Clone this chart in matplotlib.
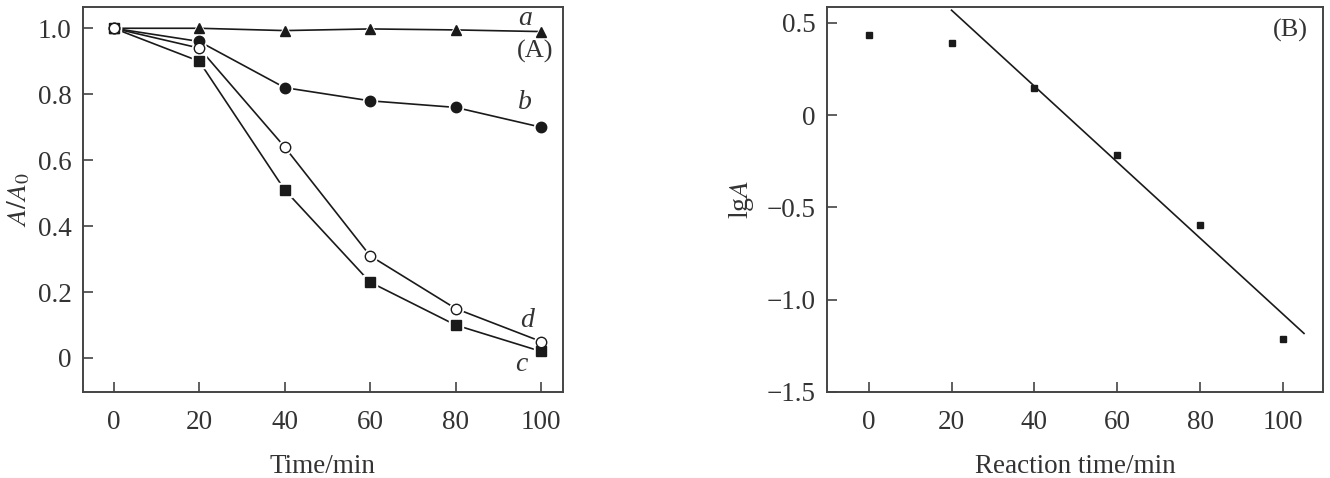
import matplotlib
matplotlib.use('Agg')
import matplotlib.pyplot as plt
import numpy as np

plt.rcParams['font.family'] = ['Liberation Serif', 'DejaVu Serif']
plt.rcParams['mathtext.fontset'] = 'stix'

# panel A data
time = [0, 20, 40, 60, 80, 100]
a_vals = [1.0, 1.0, 0.993, 0.998, 0.995, 0.99]
b_vals = [1.0, 0.96, 0.82, 0.78, 0.76, 0.70]
c_vals = [1.0, 0.90, 0.51, 0.23, 0.10, 0.02]
d_vals = [1.0, 0.94, 0.64, 0.31, 0.15, 0.05]

# panel B data
lg_a = [0.435, 0.39, 0.145, -0.215, -0.595, -1.215]
fit_slope = -0.0206
fit_intercept = 0.98
fit_range = [20, 105]

ink = '#1a1a1a'
frame = '#444444'

fig = plt.figure(figsize=(13.3, 4.78), dpi=100)
ax1 = fig.add_axes([0.0622, 0.18, 0.361, 0.805])
ax2 = fig.add_axes([0.6216, 0.18, 0.3732, 0.806])


def series(ax, y, marker, filled, ms=7.5):
    ax.plot(time, y, '-', color=ink, lw=1.2, zorder=2)
    ax.plot(time, y, marker, ms=ms + 2.5, mfc='white', mec='white', zorder=3)
    ax.plot(time, y, marker, ms=ms, mfc=ink if filled else 'white',
            mec=ink, mew=1.0, zorder=4)


series(ax1, a_vals, '^', True)
series(ax1, b_vals, 'o', True)
series(ax1, c_vals, 's', True, ms=7)
series(ax1, d_vals, 'o', False)

ax1.set_xlim(-7.25, 105.1)
ax1.set_ylim(-0.103, 1.064)
ax1.set_xticks(time)
ax1.set_yticks([0, 0.2, 0.4, 0.6, 0.8, 1.0])
ax1.set_yticklabels(['0', '0.2', '0.4', '0.6', '0.8', '1.0'])
ax1.set_xlabel('Time/min', fontsize=19.5, color='#333333', labelpad=14)
ax1.set_ylabel(r'$A/A_{\rm 0}$', fontsize=20, color='#333333', labelpad=4)

lab = dict(fontsize=20, style='italic', color='#333333', ha='center', va='center')
ax1.text(96.3, 1.031, 'a', **lab)
ax1.text(96.3, 0.776, 'b', **lab)
ax1.text(95.3, -0.02, 'c', **lab)
ax1.text(96.7, 0.115, 'd', **lab)
ax1.text(98.6, 0.93, '(A)', fontsize=19, color='#333333', ha='center', va='center')

# panel B
ax2.plot(time, lg_a, 's', ms=5, color=ink, zorder=3)
fx = np.array(fit_range)
ax2.plot(fx, fit_intercept + fit_slope * fx, '-', color=ink, lw=1.2)
ax2.set_xlim(-10.1, 109.6)
ax2.set_ylim(-1.5, 0.587)
ax2.set_xticks(time)
ax2.set_yticks([0.5, 0, -0.5, -1.0, -1.5])
ax2.set_yticklabels(['0.5', '0', '\u22120.5', '\u22121.0', '\u22121.5'])
ax2.set_xlabel('Reaction time/min', fontsize=19.5, color='#333333', labelpad=14)
ax2.set_ylabel(r'lg$A$', fontsize=20, color='#333333', labelpad=8)
ax2.text(101.6, 0.46, '(B)', fontsize=19, color='#333333', ha='center', va='center')

for ax in (ax1, ax2):
    ax.tick_params(direction='in', length=7, width=1.2, color=frame,
                   labelsize=19.5, labelcolor='#333333',
                   top=False, right=False)
    ax.tick_params(axis='x', pad=13)
    ax.tick_params(axis='y', pad=8)
    for sp in ax.spines.values():
        sp.set_color(frame)
        sp.set_linewidth(1.4)

fig.savefig('out.png', dpi=100)
